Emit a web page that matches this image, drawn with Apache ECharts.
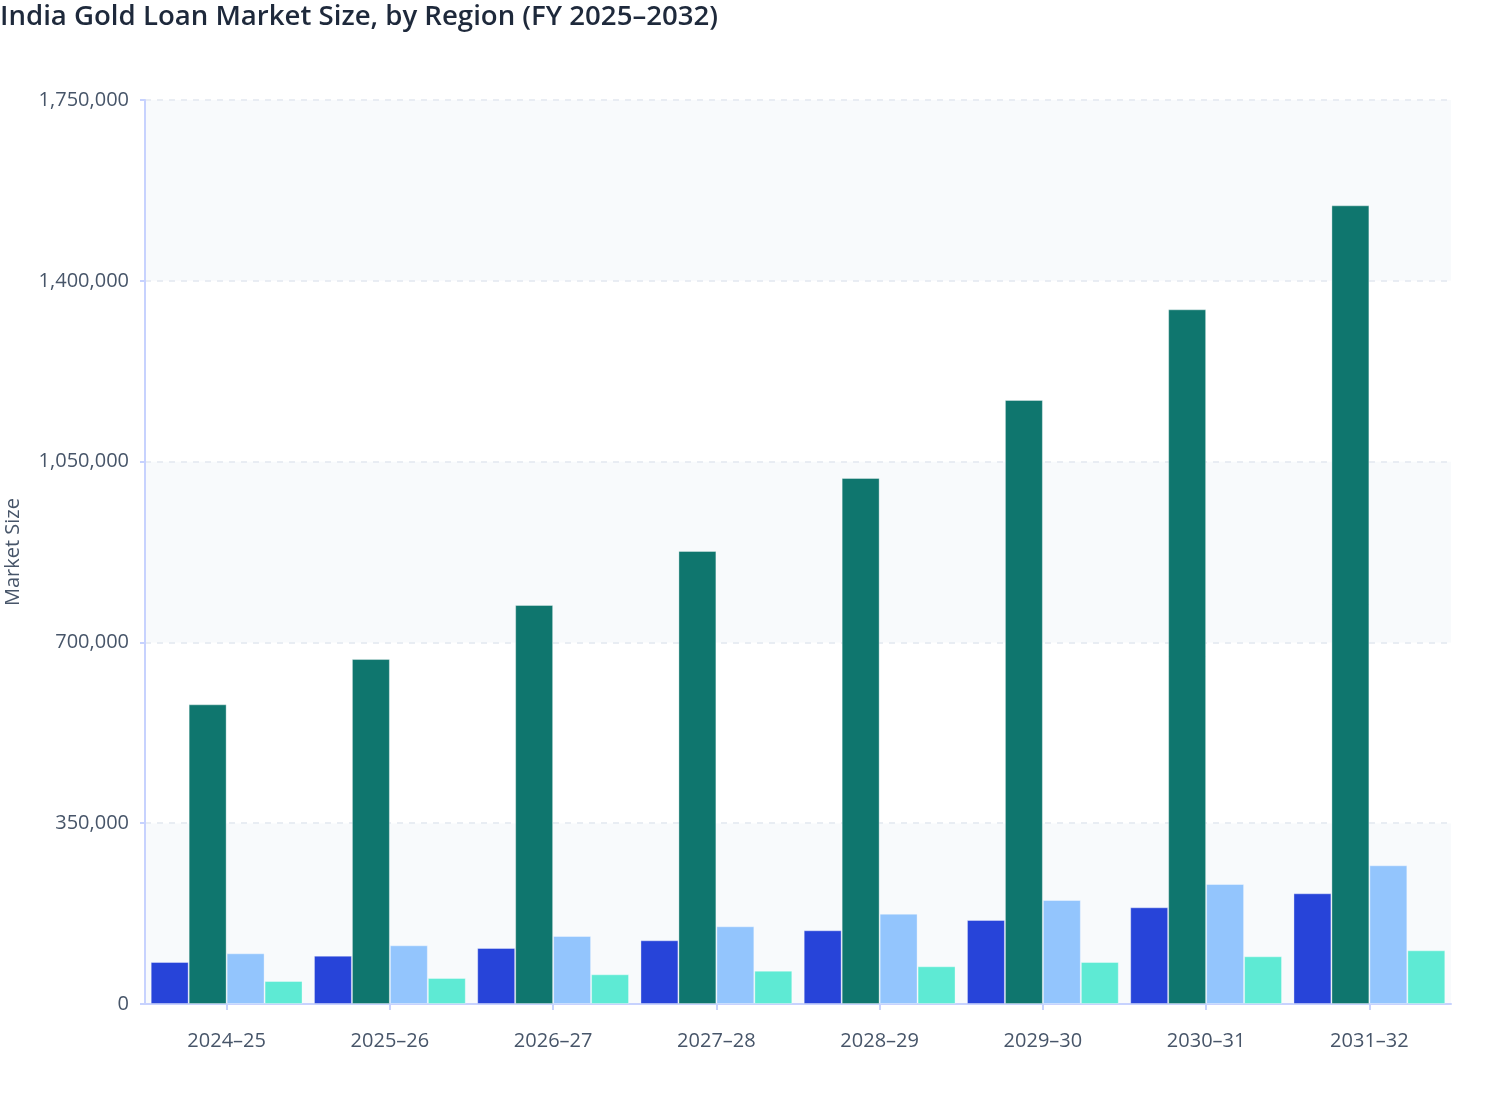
<!DOCTYPE html>
<html>
<head>
<meta charset="utf-8">
<title>India Gold Loan Market Size, by Region</title>
<script src="https://cdn.jsdelivr.net/npm/echarts@6/dist/echarts.min.js"></script>
<style>
  html, body { margin: 0; padding: 0; background: #fff; }
  #chart { width: 1508px; height: 1120px; }
</style>
</head>
<body>
<div id="chart"></div>
<script>
const YEARS = ['2024–25', '2025–26', '2026–27', '2027–28', '2028–29', '2029–30', '2030–31', '2031–32']
const NORTH = [81300, 93500, 108400, 123300, 142700, 162600, 187200, 214300]
const SOUTH = [580100, 667800, 772400, 876900, 1018200, 1169200, 1344800, 1546100]
const EAST = [98100, 113600, 131600, 150400, 174800, 201300, 232300, 268500]
const WEST = [44500, 50300, 57500, 64500, 73000, 81300, 92300, 103900]

const SERIES_LIST = [
  { name: 'North', color: '#2744d9', data: NORTH },
  { name: 'South', color: '#0f766e', data: SOUTH },
  { name: 'East', color: '#93c5fd', data: EAST },
  { name: 'West', color: '#5eead4', data: WEST }
]

const FONT = '"Open Sans", "Noto Sans", sans-serif'

const chart = echarts.init(document.getElementById('chart'))

const option = {
  backgroundColor: '#ffffff',
  textStyle: { fontFamily: FONT },
  title: {
    text: 'India Gold Loan Market Size, by Region (FY 2025–2032)',
    left: 0,
    top: 3,
    padding: 0,
    textStyle: {
      fontFamily: FONT,
      fontSize: 27.6,
      fontWeight: 600,
      color: '#1e293b'
    }
  },
  grid: {
    left: 145,
    right: 57,
    top: 100,
    bottom: 116,
    containLabel: false,
    outerBoundsMode: 'none'
  },
  xAxis: {
    type: 'category',
    data: YEARS,
    axisLine: { lineStyle: { color: '#c7d2fe', width: 2 } },
    axisTick: { show: true, alignWithLabel: true, length: 6, lineStyle: { color: '#c7d2fe', width: 2 } },
    axisLabel: { color: '#475569', fontSize: 20, margin: 27, fontFamily: FONT }
  },
  yAxis: {
    type: 'value',
    min: 0,
    max: 1750000,
    interval: 350000,
    name: 'Market Size',
    nameLocation: 'middle',
    nameGap: 122,
    nameTextStyle: { color: '#475569', fontSize: 20, fontFamily: FONT },
    axisLine: { show: true, lineStyle: { color: '#c7d2fe', width: 2 } },
    axisTick: { show: true, length: 5, lineStyle: { color: '#c7d2fe', width: 2 } },
    axisLabel: {
      color: '#475569',
      fontSize: 20,
      margin: 16,
      fontFamily: FONT,
      formatter: v => v.toLocaleString('en-US')
    },
    splitLine: { show: true, lineStyle: { color: '#e2e8f0', type: [6, 6], width: 1.5 } },
    splitArea: { show: true, areaStyle: { color: ['#f8fafc', '#ffffff'] } }
  },
  series: SERIES_LIST.map(item => ({
    name: item.name,
    type: 'bar',
    data: item.data,
    barGap: '0%',
    barCategoryGap: '7%',
    itemStyle: {
      color: item.color,
      borderColor: 'rgba(255,255,255,0.35)',
      borderWidth: 1
    }
  }))
}

chart.setOption(option)
</script>
</body>
</html>
